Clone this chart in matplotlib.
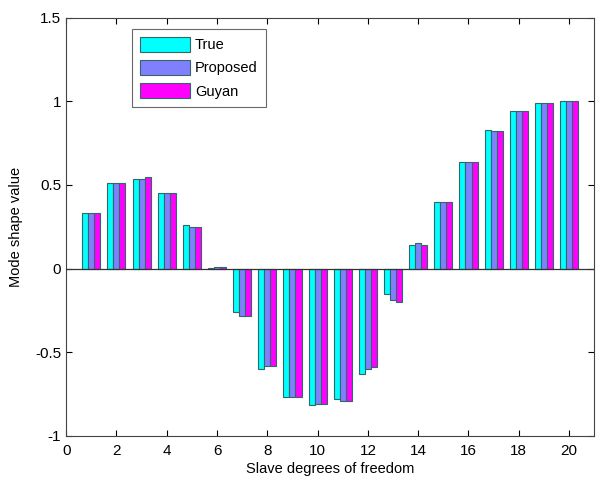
import numpy as np
import matplotlib
matplotlib.use('Agg')
import matplotlib.pyplot as plt

plt.rcParams['font.family'] = ['Liberation Sans', 'DejaVu Sans']

dof = np.arange(1, 21)
true_vals = [0.33, 0.51, 0.535, 0.45, 0.26, 0.005, -0.26, -0.60, -0.765, -0.815,
             -0.78, -0.63, -0.15, 0.14, 0.40, 0.64, 0.83, 0.94, 0.99, 1.0]
proposed_vals = [0.33, 0.51, 0.535, 0.45, 0.25, 0.012, -0.285, -0.585, -0.765, -0.81,
                 -0.79, -0.60, -0.19, 0.155, 0.40, 0.64, 0.825, 0.94, 0.99, 1.0]
guyan_vals = [0.33, 0.51, 0.545, 0.45, 0.25, 0.012, -0.285, -0.585, -0.765, -0.81,
              -0.79, -0.59, -0.20, 0.14, 0.40, 0.64, 0.825, 0.94, 0.99, 1.0]

series = [('True', true_vals, '#00FFFF'),
          ('Proposed', proposed_vals, '#8080FF'),
          ('Guyan', guyan_vals, '#FF00FF')]

fig = plt.figure(figsize=(5.96, 4.79), dpi=100)
ax = fig.add_axes([0.111, 0.09, 0.886, 0.873])

w = 0.24
for k, (name, vals, clr) in enumerate(series):
    ax.bar(dof + (k - 1) * w, vals, width=w, color=clr, edgecolor='#336666',
           linewidth=0.8, label=name, zorder=2)

ax.axhline(0, color='#333333', lw=0.9, zorder=3)

ax.set_xlim(0, 21)
ax.set_ylim(-1, 1.5)
ax.set_xticks(range(0, 21, 2))
ax.set_yticks([-1, -0.5, 0, 0.5, 1, 1.5])
ax.set_yticklabels(['-1', '-0.5', '0', '0.5', '1', '1.5'])
ax.tick_params(direction='in', top=True, right=True, labelsize=11, length=4)
ax.tick_params(axis='x', pad=6)
for s in ax.spines.values():
    s.set_color('#444444')

ax.set_xlabel('Slave degrees of freedom', fontsize=10.5, labelpad=3)
ax.set_ylabel('Mode shape value', fontsize=10.5, labelpad=9)

leg = ax.legend(loc='upper left', bbox_to_anchor=(0.125, 0.974), borderaxespad=0,
                fancybox=False, edgecolor='#444444', fontsize=10.5,
                handlelength=3.4, handleheight=1.2, borderpad=0.55,
                labelspacing=0.55, handletextpad=0.35)
leg.get_frame().set_linewidth(0.8)

fig.savefig('out.png', dpi=100)
